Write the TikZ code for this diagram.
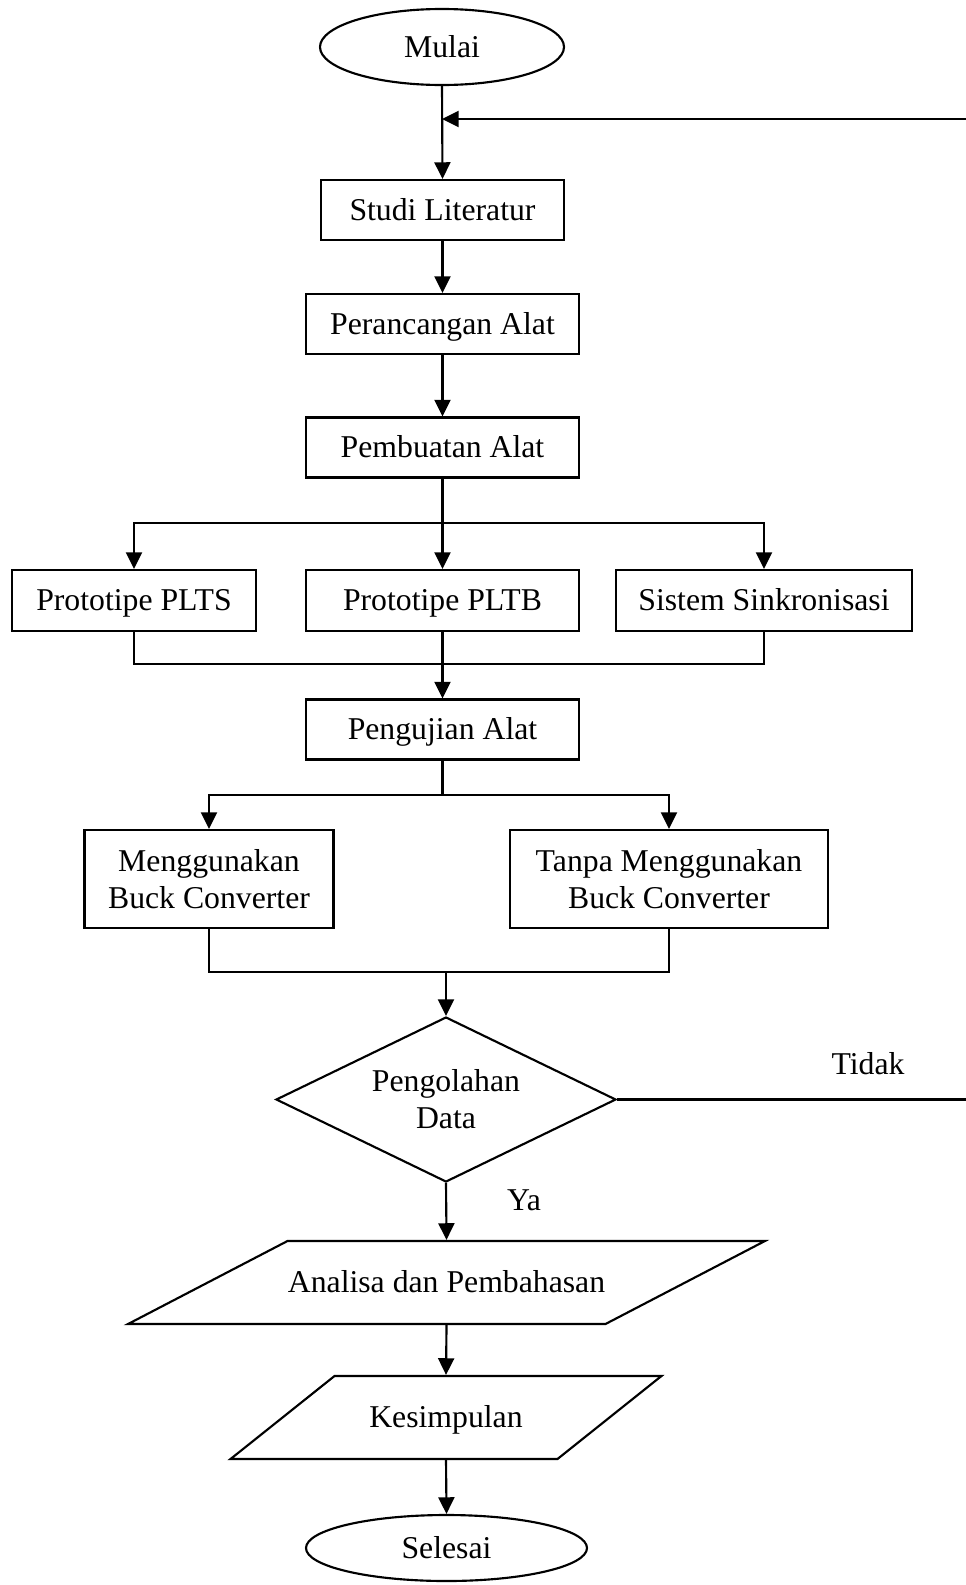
\documentclass[tikz,border=0pt]{standalone}
\usepackage{fontspec}
\setmainfont{Liberation Serif}
\usetikzlibrary{shapes.geometric,arrows.meta}

\newcommand{\flowfont}{\fontsize{23.8}{27.75}\selectfont}

\tikzset{every picture/.style={line width=1.6pt}}
\tikzset{
  proc/.style={draw, rectangle, inner sep=0pt, align=center, font=\flowfont},
  oneline/.style={text height=21.4pt, text depth=5.7pt},
  term/.style={draw, ellipse, inner sep=0pt, font=\flowfont},
  io/.style={draw, trapezium, trapezium stretches body=true, oneline, inner xsep=0pt, inner ysep=17.6pt, font=\flowfont},
  cond/.style={draw, diamond, aspect=2.06, inner sep=0pt, align=center, font=\flowfont},
  lbl/.style={inner sep=0pt, font=\flowfont},
  flow/.style={-{Triangle[width=12pt,length=12.5pt]}}
}

\begin{document}
\begin{tikzpicture}[x=0.75pt,y=0.75pt,yscale=-1,xscale=1]
    \useasboundingbox (0,0) rectangle (966,1585);

    %Terminator: start
    \draw (442,47) node [term, minimum width=183pt, minimum height=57pt] (mulai) {Mulai};
    %Process boxes
    \draw (442.5,210) node [proc, oneline, minimum width=182.25pt, minimum height=45pt] (studi) {Studi Literatur};
    \draw (442.5,324) node [proc, oneline, minimum width=204.75pt, minimum height=45pt] (rancang) {Perancangan Alat};
    \draw (442.5,447.5) node [proc, oneline, minimum width=204.75pt, minimum height=45pt] (buat) {Pembuatan Alat};
    \draw (134,600.5) node [proc, oneline, minimum width=183pt, minimum height=45.75pt] (plts) {Prototipe PLTS};
    \draw (442.5,600.5) node [proc, oneline, minimum width=204.75pt, minimum height=45.75pt] (pltb) {Prototipe PLTB};
    \draw (764,600.5) node [proc, oneline, minimum width=222pt, minimum height=45.75pt] (sinkron) {Sistem Sinkronisasi};
    \draw (442.5,729.5) node [proc, oneline, minimum width=204.75pt, minimum height=45pt] (uji) {Pengujian Alat};
    \draw (209,879) node [proc, minimum width=186.75pt, minimum height=73.5pt] (pakai) {Menggunakan\\Buck Converter};
    \draw (669,879) node [proc, minimum width=238.5pt, minimum height=73.5pt] (tanpa) {Tanpa Menggunakan\\Buck Converter};
    %Decision
    \draw (446,1099.5) node [cond, minimum width=255pt, minimum height=123.75pt] (olah) {Pengolahan\\Data};
    %Input/output
    \draw (446.5,1282.5) node [io, trapezium left angle=27.5, trapezium right angle=152.5, minimum width=477.75pt] (analisa) {Analisa dan Pembahasan};
    \draw (446,1417.5) node [io, trapezium left angle=38.6, trapezium right angle=141.4, minimum width=323.25pt] (simpul) {Kesimpulan};
    %Terminator: end
    \draw (446.5,1548) node [term, minimum width=210.75pt, minimum height=49.5pt] (selesai) {Selesai};

    % Text Node
    \draw (868,1064) node [lbl] (tidak) {Tidak};
    % Text Node
    \draw (524,1200) node [lbl] (ya) {Ya};

    %Helper points
    \coordinate (balik) at (966,119);
    \coordinate (cabang1) at (442.5,523);
    \coordinate (gabung1) at (442.5,664);
    \coordinate (cabang2) at (442.5,795);
    \coordinate (gabung2) at (446,972);

    %Connectors
    \draw [flow] (mulai.south) -- (studi.north);
    \draw [flow] (balik) -- (balik -| mulai.south);
    \draw [flow] (studi.south) -- (rancang.north);
    \draw [flow] (rancang.south) -- (buat.north);
    \draw (buat.south) -- (cabang1);
    \draw [flow] (cabang1) -| (plts.north);
    \draw [flow] (cabang1) -- (pltb.north);
    \draw [flow] (cabang1) -| (sinkron.north);
    \draw (plts.south) |- (gabung1) -| (sinkron.south);
    \draw [flow] (pltb.south) -- (uji.north);
    \draw (uji.south) -- (cabang2);
    \draw [flow] (cabang2) -| (pakai.north);
    \draw [flow] (cabang2) -| (tanpa.north);
    \draw (pakai.south) |- (gabung2) -| (tanpa.south);
    \draw [flow] (gabung2) -- (olah.north);
    \draw (olah.east) -- (olah.east -| balik);
    \draw [flow] (olah.south) -- (analisa.north);
    \draw [flow] (analisa.south) -- (simpul.north);
    \draw [flow] (simpul.south) -- (selesai.north);
\end{tikzpicture}
\end{document}
